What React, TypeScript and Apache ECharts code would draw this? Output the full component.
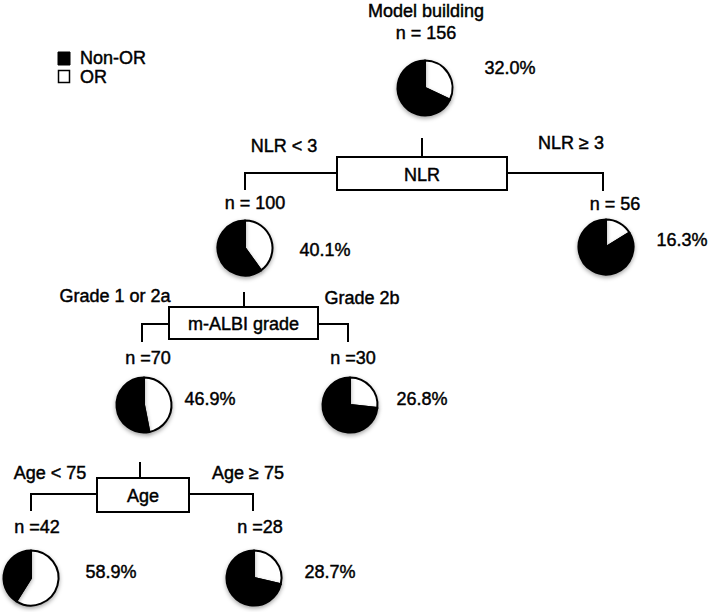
import React, { useEffect, useRef } from "react";
import * as echarts from "echarts";

// ---- data ----
const titleText = "Model building";
const nodeCounts = [156, 100, 56, 70, 30, 42, 28];
const nLabels = ["n = 156", "n = 100", "n = 56", "n =70", "n =30", "n =42", "n =28"];
const orPercent = [32.0, 40.1, 16.3, 46.9, 26.8, 58.9, 28.7];
const splitNames = ["NLR", "m-ALBI grade", "Age"];
const leftBranchLabels = ["NLR < 3", "Grade 1 or 2a", "Age < 75"];
const rightBranchLabels = ["NLR ≥ 3", "Grade 2b", "Age ≥ 75"];
const legendLabels = ["Non-OR", "OR"];

// ---- layout (pixels) ----
const pieLayout = [
  { pie: [425, 88], n: [426, 33], pct: [510, 68] },
  { pie: [245, 248], n: [255, 203], pct: [325, 250] },
  { pie: [606, 247], n: [615, 204], pct: [682, 240] },
  { pie: [144, 405], n: [148, 358], pct: [210, 399] },
  { pie: [350, 405], n: [353, 358], pct: [422, 399] },
  { pie: [31, 578], n: [37, 527], pct: [111, 572] },
  { pie: [254, 578], n: [260, 527], pct: [330, 572] },
];
const splitLayout = [
  { box: [337, 157, 170, 33], stemX: 422, stemTop: 138, armY: 173, left: [245, 190], right: [603, 191], lLab: [284, 146], rLab: [571, 143] },
  { box: [169, 307, 149, 32], stemX: 244, stemTop: 292, armY: 324, left: [142, 342], right: [348, 342], lLab: [115, 296], rLab: [362, 298] },
  { box: [97, 478, 92, 34], stemX: 140, stemTop: 462, armY: 494, left: [31, 511], right: [253, 511], lLab: [50, 473], rLab: [248, 473] },
];

const FONT = '"Liberation Sans", Arial, Helvetica, sans-serif';

function txt(text: string, x: number, y: number, align = "center") {
  return {
    type: "text",
    z: 10,
    silent: true,
    style: {
      text,
      x,
      y,
      fill: "#000",
      stroke: "#000",
      lineWidth: 0.45,
      fontSize: 18,
      fontFamily: FONT,
      align,
      verticalAlign: "middle",
      textAlign: align,
      textVerticalAlign: "middle",
    },
  };
}

const lineStyle = { stroke: "#000", lineWidth: 2, fill: null };

export default function App() {
  const ref = useRef<HTMLDivElement>(null);
  useEffect(() => {
    document.body.style.margin = "0";
    const chart = echarts.init(ref.current!, undefined, { renderer: "svg" });

    const series = orPercent.map((p, i) => ({
      type: "pie",
      name: nLabels[i] + " (" + nodeCounts[i] + ")",
      center: pieLayout[i].pie,
      radius: 27.5,
      startAngle: 90,
      clockwise: true,
      silent: true,
      label: { show: false },
      labelLine: { show: false },
      emphasis: { disabled: true },
      itemStyle: {
        borderColor: "#000",
        borderWidth: 2,
        shadowBlur: 4,
        shadowOffsetY: 2,
        shadowColor: "rgba(0,0,0,0.35)",
      },
      data: [
        { name: legendLabels[1], value: p, itemStyle: { color: "#fff" } },
        { name: legendLabels[0], value: +(100 - p).toFixed(1), itemStyle: { color: "#000" } },
      ],
    }));

    const graphics: any[] = [];
    graphics.push(txt(titleText, 426, 11));
    pieLayout.forEach((l, i) => {
      graphics.push(txt(nLabels[i], l.n[0], l.n[1]));
      graphics.push(txt(orPercent[i].toFixed(1) + "%", l.pct[0], l.pct[1]));
    });
    splitLayout.forEach((s, i) => {
      const [bx, by, bw, bh] = s.box;
      graphics.push({
        type: "rect",
        z: 5,
        silent: true,
        shape: { x: bx, y: by, width: bw, height: bh },
        style: { fill: "#fff", stroke: "#000", lineWidth: 2 },
      });
      graphics.push(txt(splitNames[i], bx + bw / 2, by + bh / 2 + 1));
      graphics.push({
        type: "polyline",
        z: 4,
        silent: true,
        shape: { points: [[s.stemX, s.stemTop], [s.stemX, by]] },
        style: lineStyle,
      });
      graphics.push({
        type: "polyline",
        z: 4,
        silent: true,
        shape: { points: [[bx, s.armY], [s.left[0], s.armY], [s.left[0], s.left[1]]] },
        style: lineStyle,
      });
      graphics.push({
        type: "polyline",
        z: 4,
        silent: true,
        shape: { points: [[bx + bw, s.armY], [s.right[0], s.armY], [s.right[0], s.right[1]]] },
        style: lineStyle,
      });
      graphics.push(txt(leftBranchLabels[i], s.lLab[0], s.lLab[1]));
      graphics.push(txt(rightBranchLabels[i], s.rLab[0], s.rLab[1]));
    });
    // legend
    graphics.push({
      type: "rect",
      silent: true,
      shape: { x: 58, y: 52, width: 12, height: 13 },
      style: { fill: "#000", stroke: "#000", lineWidth: 1 },
    });
    graphics.push({
      type: "rect",
      silent: true,
      shape: { x: 58.5, y: 70.5, width: 11, height: 12 },
      style: { fill: "#fff", stroke: "#000", lineWidth: 1.5 },
    });
    graphics.push(txt(legendLabels[0], 80, 58, "left"));
    graphics.push(txt(legendLabels[1], 80, 77, "left"));

    chart.setOption({
      animation: false,
      backgroundColor: "#fff",
      series,
      graphic: graphics,
    });
    return () => chart.dispose();
  }, []);
  return <div ref={ref} style={{ width: 709, height: 612 }} />;
}
